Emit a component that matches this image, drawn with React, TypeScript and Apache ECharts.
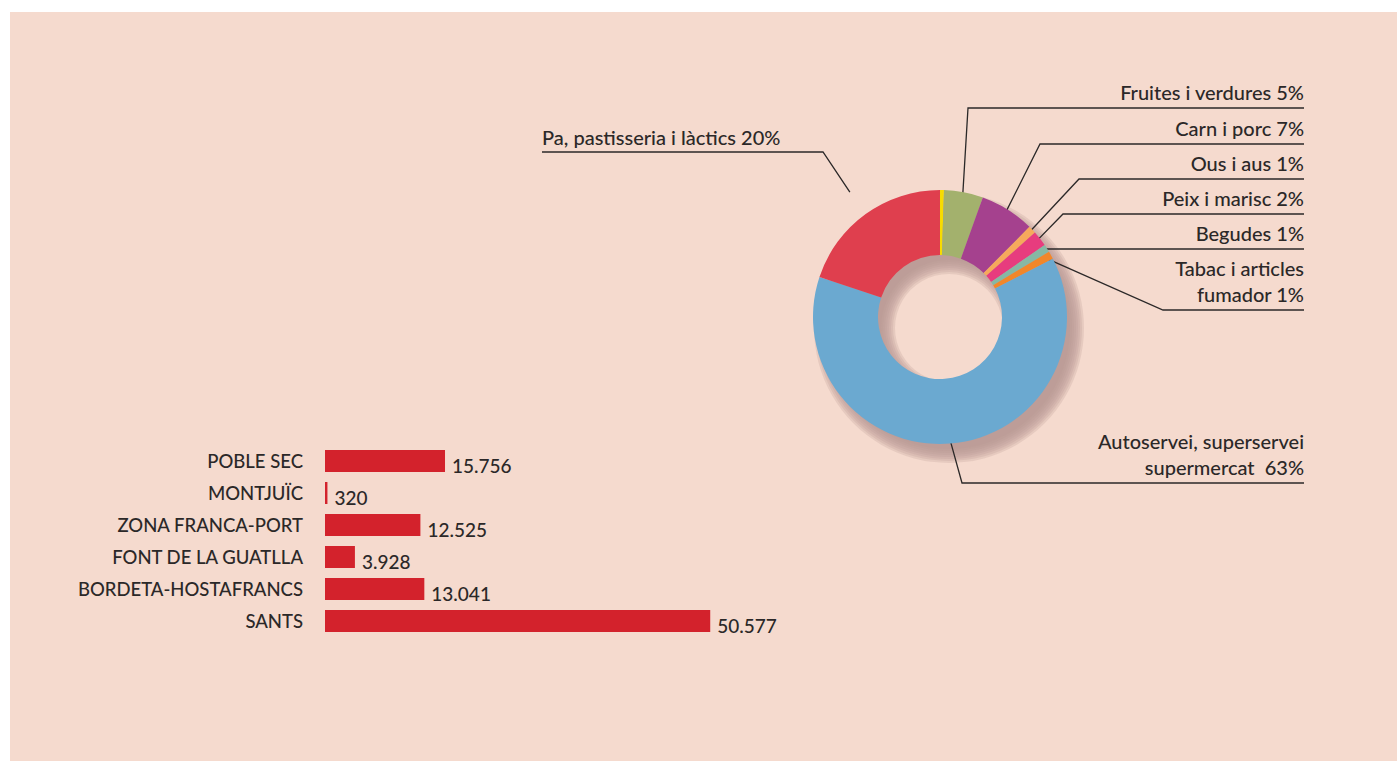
import React, { useEffect, useRef } from "react";
import * as echarts from "echarts";

const categories = ["POBLE SEC", "MONTJUÏC", "ZONA FRANCA-PORT", "FONT DE LA GUATLLA", "BORDETA-HOSTAFRANCS", "SANTS"];
const barValues = [15756, 320, 12525, 3928, 13041, 50577];

const pieLabels = [
  "",
  "Fruites i verdures 5%",
  "Carn i porc 7%",
  "Ous i aus 1%",
  "Peix i marisc 2%",
  "Begudes 1%",
  "Tabac i articles\nfumador 1%",
  "Autoservei, superservei\nsupermercat  63%",
  "Pa, pastisseria i làctics 20%",
];
const pieValues = [0.5, 5, 7, 1, 2, 1, 1, 63, 20];
const pieColors = ["#f7dc00", "#a3b16d", "#a5418e", "#f6a95c", "#e73c7e", "#86b8a4", "#f1872a", "#6ba9d0", "#df3f4e"];

// label placement (style/layout only)
const CX = 940;
const CY = 317;
const R_IN = 62;
const R_OUT = 127;
const RIGHT_X = 1304;
const labelLayouts: any[] = [
  null,
  { lineY: 108, kneeX: 968, r: 121, lines: 1 },
  { lineY: 144, kneeX: 1040, r: 121, lines: 1 },
  { lineY: 179, kneeX: 1079, r: 121, lines: 1 },
  { lineY: 214, kneeX: 1063, r: 121, lines: 1 },
  { lineY: 249, kneeX: 1042, r: 121, lines: 1 },
  { lineY: 310, kneeX: 1163, r: 121, lines: 2 },
  { lineY: 483, kneeX: 962, r: 121, lines: 2 },
  { lineY: 152, kneeX: 823, r: 154, lines: 1, leftX: 542 },
];
const SHADOW_LAYERS = [0, 1, 2, 3, 4, 5, 6, 7];

const FONT = "Lato";
const TEXT = "#2b2828";
const WEIGHT = 500;

function fmt(v: number) {
  return String(v).replace(/\B(?=(\d{3})+(?!\d))/g, ".");
}

export default function App() {
  const ref = useRef<HTMLDivElement>(null);
  useEffect(() => {
    if (!ref.current) return;
    const chart = echarts.init(ref.current, undefined, { renderer: "svg" });
    const total = pieValues.reduce((a, b) => a + b, 0);
    const midAngles: number[] = [];
    let acc = 0;
    pieValues.forEach((v) => {
      midAngles.push(((acc + v / 2) / total) * 2 * Math.PI);
      acc += v;
    });

    const shadowSeries = SHADOW_LAYERS.map((i) => ({
      type: "pie",
      silent: true,
      center: [CX + 9, CY + 11],
      radius: [R_IN - 8 + 2 * i, R_OUT + 8 - 2 * i],
      label: { show: false },
      labelLine: { show: false },
      itemStyle: { color: "rgba(184,152,145,0.24)" },
      data: [1],
      z: 1,
    }));

    chart.setOption({
      animation: false,
      textStyle: { fontFamily: FONT },
      graphic: [
        {
          type: "rect",
          z: 0,
          silent: true,
          shape: { x: 10, y: 12, width: 1387, height: 749 },
          style: { fill: "#f5dace" },
        },
      ],
      grid: { left: 325, top: 445, width: 457, height: 192, containLabel: false },
      xAxis: {
        type: "value",
        min: 0,
        max: 60000,
        show: false,
      },
      yAxis: {
        type: "category",
        data: categories,
        inverse: true,
        axisLine: { show: false },
        axisTick: { show: false },
        splitLine: { show: false },
        axisLabel: {
          margin: 22,
          color: TEXT,
          fontFamily: FONT,
          fontSize: 18.5,
          fontWeight: WEIGHT,
          padding: [6, 0, 0, 0],
        },
      },
      series: [
        {
          type: "bar",
          data: barValues,
          barWidth: 22,
          itemStyle: { color: "#d3222c" },
          silent: true,
          label: {
            show: true,
            position: "right",
            distance: 7,
            offset: [0, 4],
            color: TEXT,
            fontFamily: FONT,
            fontSize: 19,
            fontWeight: WEIGHT,
            formatter: (p: any) => fmt(p.value),
          },
        },
        ...shadowSeries,
        {
          type: "pie",
          silent: true,
          center: [CX, CY],
          radius: [R_IN, R_OUT],
          startAngle: 90,
          clockwise: true,
          avoidLabelOverlap: false,
          z: 3,
          data: pieValues.map((v, i) => ({
            value: v,
            name: pieLabels[i] || "yellow",
            itemStyle: { color: pieColors[i] },
            label: { show: i !== 0 },
            labelLine: { show: i !== 0 },
          })),
          label: {
            color: TEXT,
            fontFamily: FONT,
            fontSize: 20,
            fontWeight: WEIGHT,
            lineHeight: 26,
            formatter: (p: any) => pieLabels[p.dataIndex],
          },
          labelLine: {
            show: true,
            smooth: false,
            lineStyle: { color: "#2b2828", width: 1.3 },
          },
          labelLayout: (params: any) => {
            const L = labelLayouts[params.dataIndex];
            if (!L) return {};
            const a = midAngles[params.dataIndex];
            const sx = CX + L.r * Math.sin(a);
            const sy = CY - L.r * Math.cos(a);
            if (L.leftX != null) {
              return {
                x: L.leftX,
                y: L.lineY - 15,
                align: "left",
                verticalAlign: "middle",
                labelLinePoints: [
                  [sx, sy],
                  [L.kneeX, L.lineY],
                  [L.leftX, L.lineY],
                ],
              };
            }
            return {
              x: RIGHT_X,
              y: L.lines === 2 ? L.lineY - 29 : L.lineY - 16,
              align: "right",
              verticalAlign: "middle",
              labelLinePoints: [
                [sx, sy],
                [L.kneeX, L.lineY],
                [RIGHT_X, L.lineY],
              ],
            };
          },
        },
      ],
    });
    return () => chart.dispose();
  }, []);
  return (
    <div
      ref={ref}
      style={{ position: "fixed", left: 0, top: 0, width: 1397, height: 761, background: "#ffffff" }}
    />
  );
}
